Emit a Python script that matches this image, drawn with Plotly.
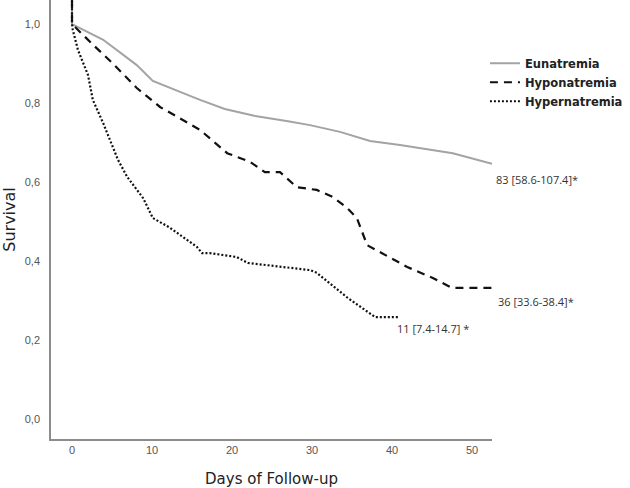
import plotly.graph_objects as go

# Days of follow-up and survival estimates
eu_days = [0, 0, 3.9, 8.1, 10.1, 16, 19.1, 22.9, 27, 29.75, 33.5, 37.25, 41, 47.6, 52.5]
eu_surv = [1.06, 1.0, 0.96, 0.896, 0.856, 0.808, 0.785, 0.767, 0.754, 0.744, 0.727, 0.704, 0.694, 0.673, 0.646]

hypo_days = [0, 0, 2.5, 5.1, 8.1, 11, 16, 19.4, 22.25, 24.1, 26, 28.1, 30.6, 32.6, 34.4, 35.6, 36.9, 38.5, 41.9, 45.1, 47.5, 52.5]
hypo_surv = [1.06, 1.0, 0.95, 0.90, 0.838, 0.79, 0.732, 0.673, 0.651, 0.625, 0.625, 0.587, 0.58, 0.562, 0.534, 0.509, 0.44, 0.423, 0.385, 0.357, 0.332, 0.332]

hyper_days = [0, 0, 0.1, 0.75, 2, 2.6, 3.9, 4.75, 5.75, 6.9, 8.9, 10.1, 12.25, 15.6, 16.25, 17.25, 20.6, 22, 29.75, 30.6, 34.5, 37.9, 40.9]
hyper_surv = [1.06, 1.0, 0.985, 0.934, 0.871, 0.808, 0.749, 0.706, 0.656, 0.613, 0.559, 0.509, 0.484, 0.436, 0.42, 0.42, 0.41, 0.395, 0.377, 0.37, 0.306, 0.258, 0.258]

series_names = ["Eunatremia", "Hyponatremia", "Hypernatremia"]
median_labels = ["83 [58.6-107.4]*", "36 [33.6-38.4]*", "11 [7.4-14.7] *"]

y_ticks = [0.0, 0.2, 0.4, 0.6, 0.8, 1.0]
x_ticks = [0, 10, 20, 30, 40, 50]

fig = go.Figure()
fig.add_trace(go.Scatter(x=eu_days, y=eu_surv, mode="lines", name=series_names[0],
                         line=dict(color="#a3a3a3", width=2)))
fig.add_trace(go.Scatter(x=hypo_days, y=hypo_surv, mode="lines", name=series_names[1],
                         line=dict(color="#111111", width=2.2, dash="8px,6px")))
fig.add_trace(go.Scatter(x=hyper_days, y=hyper_surv, mode="lines", name=series_names[2],
                         line=dict(color="#111111", width=2.2, dash="2px,2px")))

ends = [(eu_days[-1], eu_surv[-1]), (hypo_days[-1], hypo_surv[-1]), (hyper_days[-1], hyper_surv[-1])]
shifts = [(2, -16), (4, -14), (-4, -11)]
for i in range(3):
    fig.add_annotation(x=ends[i][0], y=ends[i][1], text=median_labels[i],
                       showarrow=False, xanchor="left", yanchor="middle",
                       xshift=shifts[i][0], yshift=shifts[i][1],
                       font=dict(family="Open Sans", size=11, color="#333333"))

fig.update_layout(
    width=630, height=488,
    margin=dict(l=51, r=138, t=0, b=49),
    plot_bgcolor="white", paper_bgcolor="white",
    separators=",.",
    showlegend=True,
    legend=dict(x=0.984, y=0.889, xanchor="left", yanchor="top", bgcolor="rgba(0,0,0,0)",
                font=dict(family="DejaVu Sans", size=11.5, color="#222222", weight="bold"),
                tracegroupgap=0, itemwidth=30),
    xaxis=dict(range=[-2.625, 52.5], tickvals=x_ticks, showgrid=False, zeroline=False,
               showline=True, linecolor="#8c8c8c", linewidth=1.5, ticks="",
               tickfont=dict(family="Liberation Sans", size=11, color="#555555"),
               title=dict(text="Days of Follow-up", standoff=19,
                          font=dict(family="DejaVu Sans", size=15, color="#222222"))),
    yaxis=dict(range=[-0.0506, 1.0608], tickvals=y_ticks, tickformat=".1f", showgrid=False,
               zeroline=False, showline=True, linecolor="#8c8c8c", linewidth=1.5, ticks="",
               ticklabelstandoff=7,
               tickfont=dict(family="Liberation Sans", size=11, color="#555555"),
               title=dict(text="Survival", standoff=11,
                          font=dict(family="DejaVu Sans", size=16, color="#222222"))),
)

fig.write_html("out.html", config={"displayModeBar": False},
               post_script="document.body.style.margin='0px';")
